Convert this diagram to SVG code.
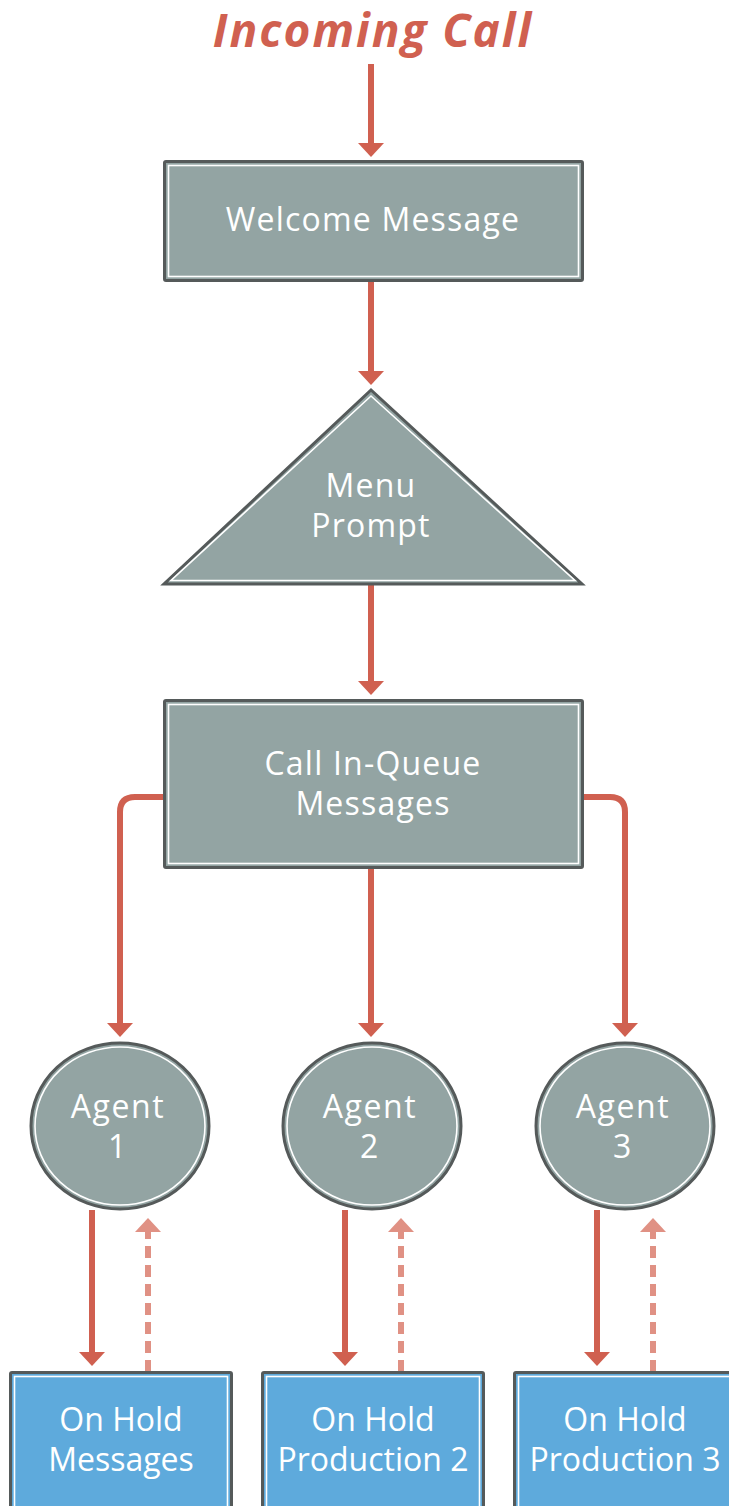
<svg xmlns="http://www.w3.org/2000/svg" width="729" height="1506" viewBox="0 0 729 1506">
<style>
.node{fill:#93a4a3;stroke:#555a5a;stroke-width:3}
.blue{fill:#5eaadc;stroke:#555a5a;stroke-width:3}
.inner{fill:none;stroke:#ffffff;stroke-width:1.6}
.lbl{font-family:"Open Sans",sans-serif;font-size:32px;letter-spacing:1.2px;fill:#ffffff;text-anchor:middle}
.hl{font-family:"Open Sans",sans-serif;font-size:32px;fill:#ffffff;text-anchor:middle}
.ag{font-family:"Open Sans",sans-serif;font-size:32px;letter-spacing:1.6px;fill:#ffffff;text-anchor:middle}
.c{fill:none;stroke:#d06050;stroke-width:6}
.d{fill:none;stroke:#e09184;stroke-width:6;stroke-dasharray:12 7}
</style>
<text x="373" y="47" font-family="Open Sans, sans-serif" font-size="46" font-weight="bold" font-style="italic" letter-spacing="2" fill="#d06050" text-anchor="middle">Incoming Call</text>
<g id="connectors">
<path class="c" d="M371 64V146"/><polygon points="358,143 384,143 371,157" fill="#d06050"/>
<path class="c" d="M371 281V374"/><polygon points="358,371 384,371 371,385" fill="#d06050"/>
<path class="c" d="M371 585V684"/><polygon points="358,681 384,681 371,695" fill="#d06050"/>
<path class="c" d="M164 797H135Q120 797 120 812V1027"/><polygon points="107,1023 133,1023 120,1037" fill="#d06050"/>
<path class="c" d="M371 868V1027"/><polygon points="358,1023 384,1023 371,1037" fill="#d06050"/>
<path class="c" d="M583 797H610Q625 797 625 812V1027"/><polygon points="612,1023 638,1023 625,1037" fill="#d06050"/>
<path class="c" d="M92 1210V1356"/><polygon points="79,1352 105,1352 92,1366" fill="#d06050"/>
<path class="d" d="M148 1372V1228"/><polygon points="135,1232 161,1232 148,1218" fill="#e09184"/>
<path class="c" d="M345 1210V1356"/><polygon points="332,1352 358,1352 345,1366" fill="#d06050"/>
<path class="d" d="M401 1372V1228"/><polygon points="388,1232 414,1232 401,1218" fill="#e09184"/>
<path class="c" d="M597 1210V1356"/><polygon points="584,1352 610,1352 597,1366" fill="#d06050"/>
<path class="d" d="M653 1372V1228"/><polygon points="640,1232 666,1232 653,1218" fill="#e09184"/>
</g>
<g id="welcome">
<rect class="node" x="164.5" y="161.5" width="418" height="119" rx="1.5"/>
<rect class="inner" x="168.5" y="165.5" width="410" height="111"/>
<text class="lbl" x="373" y="231">Welcome Message</text>
</g>
<g id="menu">
<polygon class="node" points="371,390 164,584 582,584"/>
<polygon class="inner" points="371,396 171,580.5 575,580.5"/>
<text class="lbl" x="371" y="497">Menu</text>
<text class="lbl" x="371" y="537">Prompt</text>
</g>
<g id="queue">
<rect class="node" x="164.5" y="700.5" width="418" height="167" rx="1.5"/>
<rect class="inner" x="168.5" y="704.5" width="410" height="159"/>
<text class="lbl" x="373" y="775">Call In-Queue</text>
<text class="lbl" x="373" y="815">Messages</text>
</g>
<g id="agent1">
<ellipse class="node" cx="120" cy="1126" rx="89" ry="83"/>
<ellipse class="inner" cx="120" cy="1126" rx="85" ry="79"/>
<text class="ag" x="118" y="1118">Agent</text>
<text class="ag" x="118" y="1158">1</text>
</g>
<g id="agent2">
<ellipse class="node" cx="372" cy="1126" rx="89" ry="83"/>
<ellipse class="inner" cx="372" cy="1126" rx="85" ry="79"/>
<text class="ag" x="370" y="1118">Agent</text>
<text class="ag" x="370" y="1158">2</text>
</g>
<g id="agent3">
<ellipse class="node" cx="625" cy="1126" rx="89" ry="83"/>
<ellipse class="inner" cx="625" cy="1126" rx="85" ry="79"/>
<text class="ag" x="623" y="1118">Agent</text>
<text class="ag" x="623" y="1158">3</text>
</g>
<g id="hold1">
<rect class="blue" x="10.5" y="1372.5" width="221" height="150" rx="1.5"/>
<rect class="inner" x="14.5" y="1376.5" width="213" height="150"/>
<text class="hl" x="121" y="1431">On Hold</text>
<text class="hl" x="121" y="1471">Messages</text>
</g>
<g id="hold2">
<rect class="blue" x="262.5" y="1372.5" width="221" height="150" rx="1.5"/>
<rect class="inner" x="266.5" y="1376.5" width="213" height="150"/>
<text class="hl" x="373" y="1431">On Hold</text>
<text class="hl" x="373" y="1471">Production 2</text>
</g>
<g id="hold3">
<rect class="blue" x="514.5" y="1372.5" width="240" height="150" rx="1.5"/>
<rect class="inner" x="518.5" y="1376.5" width="232" height="150"/>
<text class="hl" x="625" y="1431">On Hold</text>
<text class="hl" x="625" y="1471">Production 3</text>
</g>
</svg>
